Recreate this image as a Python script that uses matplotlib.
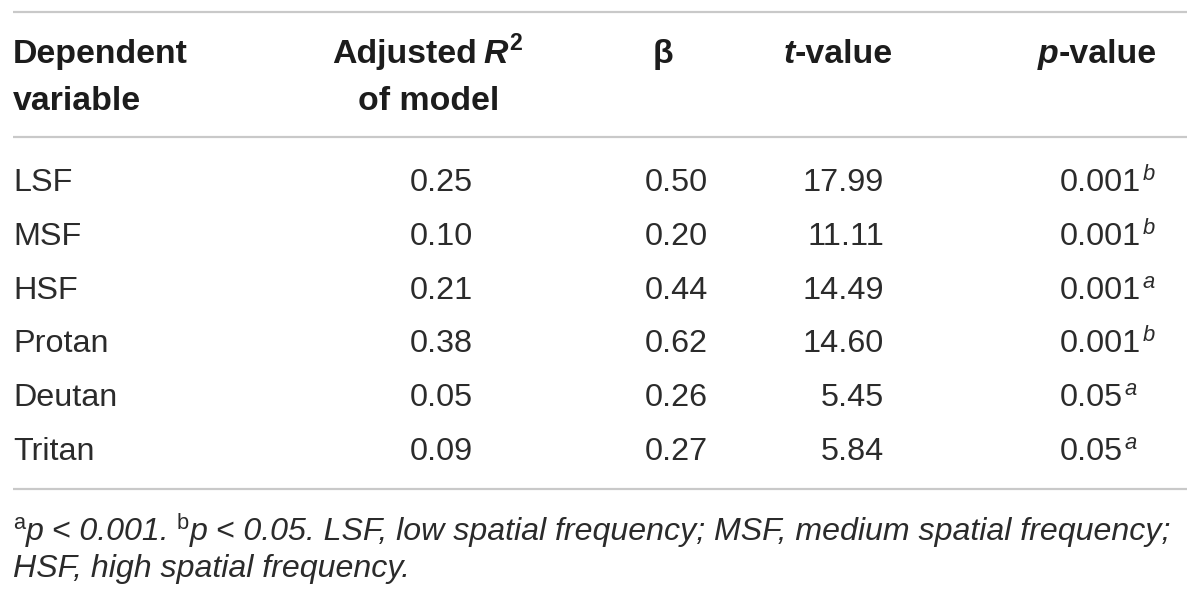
import matplotlib
matplotlib.use('Agg')
import matplotlib.pyplot as plt
from matplotlib.lines import Line2D

# ---- data ----
variables = ['LSF', 'MSF', 'HSF', 'Protan', 'Deutan', 'Tritan']
adj_r2 = [0.25, 0.10, 0.21, 0.38, 0.05, 0.09]
beta = [0.50, 0.20, 0.44, 0.62, 0.26, 0.27]
t_values = [17.99, 11.11, 14.49, 14.60, 5.45, 5.84]
p_values = ['0.001', '0.001', '0.001', '0.001', '0.05', '0.05']
p_marks = ['b', 'b', 'a', 'b', 'a', 'a']

W, H = 1200, 601
FONT = ['Liberation Sans', 'DejaVu Sans']
TXT = '#2b2b2b'
HDR = '#1c1c1c'
LINE = '#c9c9c9'
SIZE = 23.3
HSIZE = 24.4

fig = plt.figure(figsize=(W / 100, H / 100), dpi=100)
fig.patch.set_facecolor('white')
renderer = fig.canvas.get_renderer()


def hline(y, x0=13, x1=1187):
    fig.add_artist(Line2D([x0 / W, x1 / W], [1 - y / H, 1 - y / H],
                          color=LINE, lw=1.6, solid_capstyle='butt'))


def run(x, y, parts, ha='left', size=SIZE, color=TXT, measure=False, raise_=0.34):
    """parts: list of (text, opts) with opts keys: bold, italic, sup, gap"""
    items = []
    total = 0.0
    for s, o in parts:
        fs = size * (0.68 if o.get('sup') else 1.0)
        t = fig.text(0, 0, s, fontsize=fs, family=FONT,
                     fontweight='bold' if o.get('bold') else 'normal',
                     fontstyle='italic' if o.get('italic') else 'normal',
                     color=color, va='baseline', ha='left')
        w = t.get_window_extent(renderer).width
        gap = o.get('gap', 0.0) * size / SIZE
        items.append((t, total + gap, o))
        total += gap + w
    if measure:
        for t, _, _ in items:
            t.remove()
        return total
    if ha == 'center':
        x0 = x - total / 2
    elif ha == 'right':
        x0 = x - total
    else:
        x0 = x
    size_px = size * 100 / 72
    for t, off, o in items:
        yy = y - (raise_ * size_px if o.get('sup') else 0)
        t.set_position(((x0 + off) / W, 1 - yy / H))
    return total


# ---- rules ----
hline(12)
hline(137)
hline(489)

# ---- header ----
B = {'bold': True}
run(13, 63, [('Dependent', B)], size=HSIZE, color=HDR)
run(13, 110, [('variable', B)], size=HSIZE, color=HDR)
run(427, 63, [('Adjusted', B), ('R', {'bold': True, 'italic': True, 'gap': 7}),
              ('2', {'bold': True, 'sup': True, 'gap': 1})], ha='center', size=HSIZE,
    color=HDR, raise_=0.38)
run(429, 110, [('of model', B)], ha='center', size=HSIZE, color=HDR)
run(663, 63, [('β', B)], ha='center', size=HSIZE, color=HDR)
run(893, 63, [('t', {'bold': True, 'italic': True}), ('-value', B)], ha='right', size=HSIZE, color=HDR)
run(1157, 63, [('p', {'bold': True, 'italic': True}), ('-value', B)], ha='right', size=HSIZE, color=HDR)

# ---- body ----
base0, step = 191, 53.8
for i, name in enumerate(variables):
    y = base0 + i * step
    run(13, y, [(name, {})])
    run(410, y, [(f'{adj_r2[i]:.2f}', {})])
    run(645, y, [(f'{beta[i]:.2f}', {})])
    run(884, y, [(f'{t_values[i]:.2f}', {})], ha='right')
    run(1060, y, [(p_values[i], {}), (p_marks[i], {'italic': True, 'sup': True, 'gap': 1})])

# ---- footnote (fit width) ----
I = {'italic': True}
line1 = [('a', {'sup': True}), ('p < 0.001.', {'italic': True, 'gap': 1}),
         ('b', {'sup': True, 'gap': 7}),
         ('p < 0.05. LSF, low spatial frequency; MSF, medium spatial frequency;',
          {'italic': True, 'gap': 1})]
wnat = run(0, 0, line1, size=SIZE, measure=True)
fsize = SIZE * 1160 / wnat
run(13, 540, line1, size=fsize)
run(13, 577, [('HSF, high spatial frequency.', I)], size=fsize)

fig.savefig('out.png', dpi=100, facecolor='white')
